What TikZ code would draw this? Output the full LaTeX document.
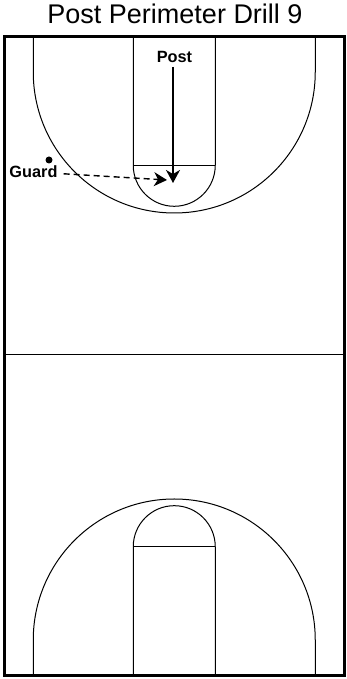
\documentclass[tikz,border=0pt]{standalone}
\usepackage{fontspec}
\setmainfont{Liberation Sans}
\usetikzlibrary{arrows.meta}
\tikzset{
  court/.style={line width=1pt},
  run/.style={line width=1.4pt,-{Stealth[length=13pt,width=14pt,inset=4pt]}},
  player/.style={font=\bfseries\fontsize{16.3}{18}\selectfont,inner sep=1pt}
}
\begin{document}
\begin{tikzpicture}
  [x=1pt,y=1pt]
  \useasboundingbox (0,0) rectangle (346,679);

  \node[inner sep=0pt,font=\fontsize{27}{30}\selectfont] (title) at (175,665) {Post Perimeter Drill 9};

  \draw[line width=3.2pt] (4.5,3.5) rectangle (344.5,642.5);
  \draw[court] (4.5,324) -- (344.5,324);

  % top half
  \draw[court] (33.25,642.5) -- (33.25,607) arc (180:360:141) -- (315.25,642.5);
  \draw[court] (133.25,642.5) -- (133.25,513.7) arc (180:360:41) -- (215.25,642.5);
  \draw[court] (133.25,513.7) -- (215.25,513.7);

  % bottom half
  \draw[court] (33.25,3.5) -- (33.25,39) arc (180:0:141) -- (315.25,3.5);
  \draw[court] (133.25,3.5) -- (133.25,132.3) arc (180:0:41) -- (215.25,3.5);
  \draw[court] (133.25,132.3) -- (215.25,132.3);

  \node[player] (post) at (174.5,622) {Post};
  \node[player] (guard) at (33.5,507) {Guard};
  \node[circle,fill=black,inner sep=0pt,minimum size=7pt] (dot) at (49,519) {};

  \coordinate (posttip) at (173,496);
  \coordinate (guardtip) at (167,499);

  \draw[run,shorten <=3pt] (post.south -| posttip) -- (posttip);
  \draw[run,dash pattern=on 6pt off 4pt,shorten <=5pt] (guard) -- (guardtip);

\end{tikzpicture}
\end{document}
